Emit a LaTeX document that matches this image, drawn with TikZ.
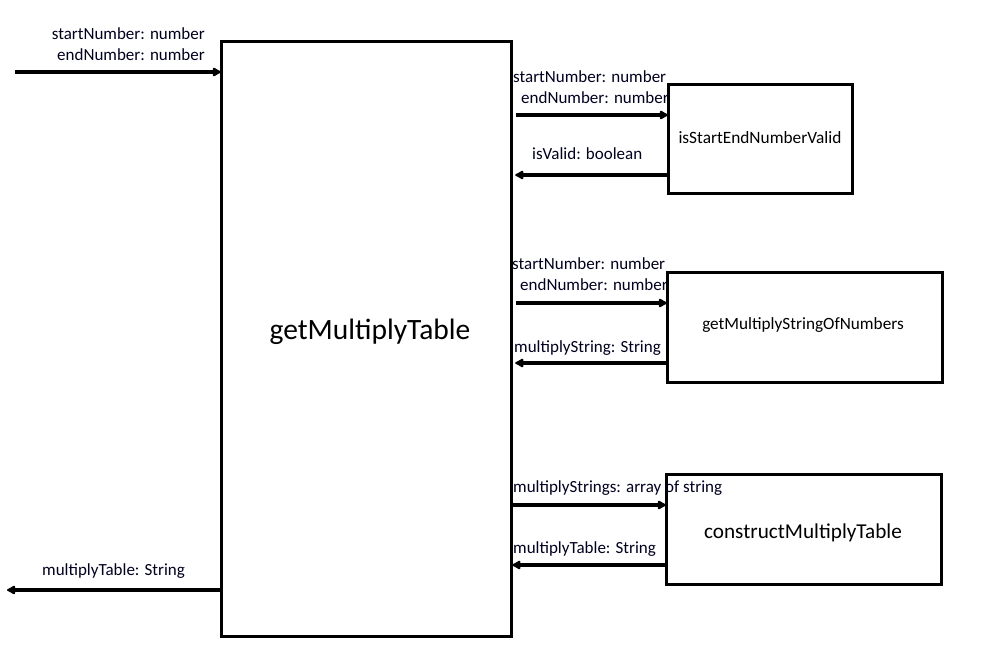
\documentclass[tikz,border=0pt]{standalone}
\usepackage{fontspec}
\setmainfont{Carlito}
\usetikzlibrary{arrows.meta}
\begin{document}
\begin{tikzpicture}[x=1pt,y=-1pt,
  box/.style={draw=black,line width=3.2pt,inner sep=0pt,anchor=north west},
  arr/.style={line width=3.2pt,-{Latex[length=10pt,width=11pt,round]},shorten >=-1pt},
  lbl/.style={inner sep=0pt,font=\fontsize{17}{19}\selectfont,text=black!88!blue},
]
\useasboundingbox (0,0) rectangle (983,666);
\fill[white] (0,0) rectangle (983,666);
% boxes
\node[box,minimum width=290pt,minimum height=595pt] (main) at (220,40) {};
\node[font=\fontsize{29.5}{32}\selectfont] (mainlbl) at (370,332) {getMultiplyTable};
\node[box,minimum width=184pt,minimum height=109pt] (b1) at (667,83) {};
\node[font=\fontsize{17.3}{19}\selectfont] (b1lbl) at (760,138) {isStartEndNumberValid};
\node[box,minimum width=275pt,minimum height=110pt] (b2) at (666,271) {};
\node[font=\fontsize{17.2}{19}\selectfont] (b2lbl) at (803,325) {getMultiplyStringOfNumbers};
\node[box,minimum width=275pt,minimum height=110pt] (b3) at (665,473) {};
\node[font=\fontsize{21.2}{24}\selectfont] (b3lbl) at (803,533) {constructMultiplyTable};
% outer input/output
\coordinate (inStart) at (15,72);
\coordinate (outEnd) at (8,590);
\draw[arr] (inStart) -- (main.west |- inStart);
\draw[arr] (main.west |- outEnd) -- (outEnd);
\node[lbl,anchor=east] (in1) at (205,34) {startNumber: number};
\node[lbl,anchor=east] (in2) at (205,55) {endNumber: number};
\node[lbl,anchor=west] (out1) at (42,571) {multiplyTable: String};
% b1
\draw[arr] ([xshift=3pt]main.east |- 0,115) -- (b1.west |- 0,115);
\draw[arr] (b1.west |- 0,175) -- ([xshift=3pt]main.east |- 0,175);
\node[lbl,anchor=west] (l1a) at (513,77) {startNumber: number};
\node[lbl,anchor=west] (l1b) at (521,98) {endNumber: number};
\node[lbl,anchor=west] (l1c) at (532,154) {isValid: boolean};
% b2
\draw[arr] ([xshift=3pt]main.east |- 0,303) -- (b2.west |- 0,303);
\draw[arr] (b2.west |- 0,363) -- ([xshift=3pt]main.east |- 0,363);
\node[lbl,anchor=west] (l2a) at (512,264) {startNumber: number};
\node[lbl,anchor=west] (l2b) at (520,285) {endNumber: number};
\node[lbl,anchor=west] (l2c) at (514,348) {multiplyString: String};
% b3
\draw[arr] (main.east |- 0,505) -- (b3.west |- 0,505);
\draw[arr] (b3.west |- 0,565) -- (main.east |- 0,565);
\node[lbl,anchor=west] (l3a) at (513,488) {multiplyStrings: array of string};
\node[lbl,anchor=west] (l3b) at (513,549) {multiplyTable: String};
\end{tikzpicture}
\end{document}
